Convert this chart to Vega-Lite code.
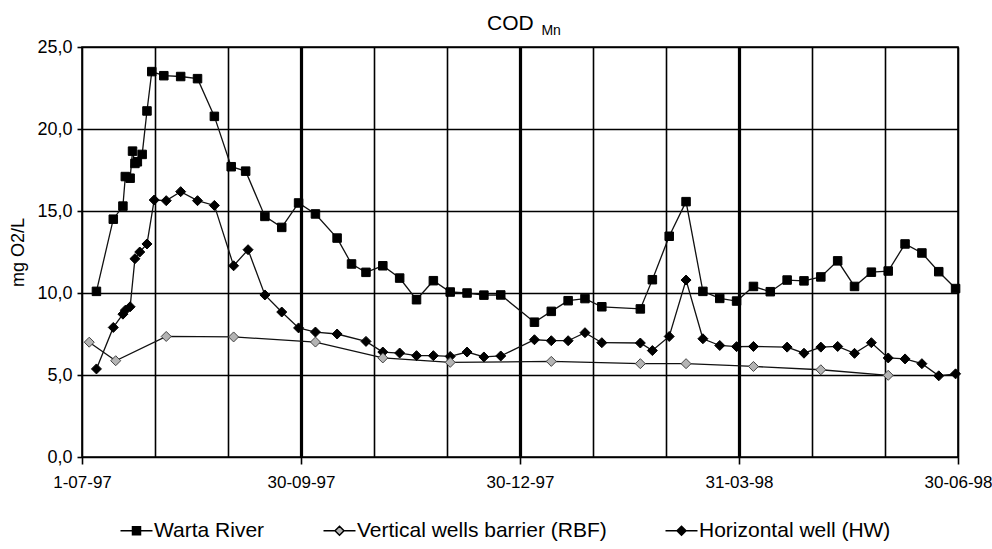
{
  "$schema": "https://vega.github.io/schema/vega-lite/v6.json",
  "width": 876,
  "height": 410,
  "autosize": {"type": "none"},
  "padding": {"left": 82, "top": 47, "right": 34, "bottom": 92},
  "background": "white",
  "config": {
    "font": "Liberation Sans",
    "view": {"stroke": "#000", "strokeWidth": 1.6},
    "axis": {"labelFont": "Liberation Sans", "titleFont": "Liberation Sans", "labelColor": "#000", "titleColor": "#000", "domain": false, "gridColor": "#000", "gridOpacity": 1, "tickColor": "#000"}
  },
  "title": {
    "text": "COD",
    "subtitle": "\u200b\u00a0\u00a0\u00a0\u00a0\u00a0\u00a0\u00a0\u00a0\u00a0\u00a0\u00a0\u00a0\u00a0\u00a0Mn",
    "anchor": "middle",
    "align": "left",
    "dx": -33,
    "fontSize": 21,
    "fontWeight": "normal",
    "font": "Liberation Sans",
    "color": "#000",
    "subtitleFont": "Liberation Sans",
    "subtitleFontSize": 14,
    "subtitleColor": "#000",
    "subtitlePadding": -10,
    "offset": 0
  },
  "data": {
    "format": {"parse": {"date": "utc:'%Y-%m-%d'"}},
    "values": [
      {"series": "Warta River", "date": "1997-07-07", "value": 10.1},
      {"series": "Warta River", "date": "1997-07-14", "value": 14.5},
      {"series": "Warta River", "date": "1997-07-18", "value": 15.3},
      {"series": "Warta River", "date": "1997-07-19", "value": 17.1},
      {"series": "Warta River", "date": "1997-07-21", "value": 17.0},
      {"series": "Warta River", "date": "1997-07-22", "value": 18.65},
      {"series": "Warta River", "date": "1997-07-23", "value": 17.9},
      {"series": "Warta River", "date": "1997-07-24", "value": 18.0},
      {"series": "Warta River", "date": "1997-07-26", "value": 18.45},
      {"series": "Warta River", "date": "1997-07-28", "value": 21.1},
      {"series": "Warta River", "date": "1997-07-30", "value": 23.5},
      {"series": "Warta River", "date": "1997-08-04", "value": 23.25},
      {"series": "Warta River", "date": "1997-08-11", "value": 23.2},
      {"series": "Warta River", "date": "1997-08-18", "value": 23.07},
      {"series": "Warta River", "date": "1997-08-25", "value": 20.77},
      {"series": "Warta River", "date": "1997-09-01", "value": 17.7},
      {"series": "Warta River", "date": "1997-09-07", "value": 17.43},
      {"series": "Warta River", "date": "1997-09-15", "value": 14.67},
      {"series": "Warta River", "date": "1997-09-22", "value": 14.0},
      {"series": "Warta River", "date": "1997-09-29", "value": 15.49},
      {"series": "Warta River", "date": "1997-10-06", "value": 14.82},
      {"series": "Warta River", "date": "1997-10-15", "value": 13.35},
      {"series": "Warta River", "date": "1997-10-21", "value": 11.77},
      {"series": "Warta River", "date": "1997-10-27", "value": 11.26},
      {"series": "Warta River", "date": "1997-11-03", "value": 11.66},
      {"series": "Warta River", "date": "1997-11-10", "value": 10.91},
      {"series": "Warta River", "date": "1997-11-17", "value": 9.59},
      {"series": "Warta River", "date": "1997-11-24", "value": 10.75},
      {"series": "Warta River", "date": "1997-12-01", "value": 10.06},
      {"series": "Warta River", "date": "1997-12-08", "value": 10.0},
      {"series": "Warta River", "date": "1997-12-15", "value": 9.87},
      {"series": "Warta River", "date": "1997-12-22", "value": 9.88},
      {"series": "Warta River", "date": "1998-01-05", "value": 8.22},
      {"series": "Warta River", "date": "1998-01-12", "value": 8.88},
      {"series": "Warta River", "date": "1998-01-19", "value": 9.53},
      {"series": "Warta River", "date": "1998-01-26", "value": 9.66},
      {"series": "Warta River", "date": "1998-02-02", "value": 9.16},
      {"series": "Warta River", "date": "1998-02-18", "value": 9.03},
      {"series": "Warta River", "date": "1998-02-23", "value": 10.81},
      {"series": "Warta River", "date": "1998-03-02", "value": 13.46},
      {"series": "Warta River", "date": "1998-03-09", "value": 15.57},
      {"series": "Warta River", "date": "1998-03-16", "value": 10.1},
      {"series": "Warta River", "date": "1998-03-23", "value": 9.67},
      {"series": "Warta River", "date": "1998-03-30", "value": 9.51},
      {"series": "Warta River", "date": "1998-04-06", "value": 10.4},
      {"series": "Warta River", "date": "1998-04-13", "value": 10.08},
      {"series": "Warta River", "date": "1998-04-20", "value": 10.79},
      {"series": "Warta River", "date": "1998-04-27", "value": 10.74},
      {"series": "Warta River", "date": "1998-05-04", "value": 10.98},
      {"series": "Warta River", "date": "1998-05-11", "value": 11.96},
      {"series": "Warta River", "date": "1998-05-18", "value": 10.4},
      {"series": "Warta River", "date": "1998-05-25", "value": 11.27},
      {"series": "Warta River", "date": "1998-06-01", "value": 11.34},
      {"series": "Warta River", "date": "1998-06-08", "value": 12.99},
      {"series": "Warta River", "date": "1998-06-15", "value": 12.44},
      {"series": "Warta River", "date": "1998-06-22", "value": 11.3},
      {"series": "Warta River", "date": "1998-06-29", "value": 10.27},
      {"series": "Horizontal well (HW)", "date": "1997-07-07", "value": 5.37},
      {"series": "Horizontal well (HW)", "date": "1997-07-14", "value": 7.9},
      {"series": "Horizontal well (HW)", "date": "1997-07-18", "value": 8.71},
      {"series": "Horizontal well (HW)", "date": "1997-07-19", "value": 8.95},
      {"series": "Horizontal well (HW)", "date": "1997-07-21", "value": 9.16},
      {"series": "Horizontal well (HW)", "date": "1997-07-23", "value": 12.09},
      {"series": "Horizontal well (HW)", "date": "1997-07-25", "value": 12.5},
      {"series": "Horizontal well (HW)", "date": "1997-07-28", "value": 12.99},
      {"series": "Horizontal well (HW)", "date": "1997-07-31", "value": 15.67},
      {"series": "Horizontal well (HW)", "date": "1997-08-05", "value": 15.63},
      {"series": "Horizontal well (HW)", "date": "1997-08-11", "value": 16.18},
      {"series": "Horizontal well (HW)", "date": "1997-08-18", "value": 15.63},
      {"series": "Horizontal well (HW)", "date": "1997-08-25", "value": 15.34},
      {"series": "Horizontal well (HW)", "date": "1997-09-02", "value": 11.66},
      {"series": "Horizontal well (HW)", "date": "1997-09-08", "value": 12.64},
      {"series": "Horizontal well (HW)", "date": "1997-09-15", "value": 9.88},
      {"series": "Horizontal well (HW)", "date": "1997-09-22", "value": 8.84},
      {"series": "Horizontal well (HW)", "date": "1997-09-29", "value": 7.87},
      {"series": "Horizontal well (HW)", "date": "1997-10-06", "value": 7.62},
      {"series": "Horizontal well (HW)", "date": "1997-10-15", "value": 7.5},
      {"series": "Horizontal well (HW)", "date": "1997-10-27", "value": 7.05},
      {"series": "Horizontal well (HW)", "date": "1997-11-03", "value": 6.4},
      {"series": "Horizontal well (HW)", "date": "1997-11-10", "value": 6.34},
      {"series": "Horizontal well (HW)", "date": "1997-11-17", "value": 6.18},
      {"series": "Horizontal well (HW)", "date": "1997-11-24", "value": 6.18},
      {"series": "Horizontal well (HW)", "date": "1997-12-01", "value": 6.13},
      {"series": "Horizontal well (HW)", "date": "1997-12-08", "value": 6.4},
      {"series": "Horizontal well (HW)", "date": "1997-12-15", "value": 6.1},
      {"series": "Horizontal well (HW)", "date": "1997-12-22", "value": 6.16},
      {"series": "Horizontal well (HW)", "date": "1998-01-05", "value": 7.15},
      {"series": "Horizontal well (HW)", "date": "1998-01-12", "value": 7.09},
      {"series": "Horizontal well (HW)", "date": "1998-01-19", "value": 7.09},
      {"series": "Horizontal well (HW)", "date": "1998-01-26", "value": 7.58},
      {"series": "Horizontal well (HW)", "date": "1998-02-02", "value": 6.97},
      {"series": "Horizontal well (HW)", "date": "1998-02-18", "value": 6.95},
      {"series": "Horizontal well (HW)", "date": "1998-02-23", "value": 6.49},
      {"series": "Horizontal well (HW)", "date": "1998-03-02", "value": 7.35},
      {"series": "Horizontal well (HW)", "date": "1998-03-09", "value": 10.79},
      {"series": "Horizontal well (HW)", "date": "1998-03-16", "value": 7.21},
      {"series": "Horizontal well (HW)", "date": "1998-03-23", "value": 6.8},
      {"series": "Horizontal well (HW)", "date": "1998-03-30", "value": 6.73},
      {"series": "Horizontal well (HW)", "date": "1998-04-06", "value": 6.74},
      {"series": "Horizontal well (HW)", "date": "1998-04-20", "value": 6.7},
      {"series": "Horizontal well (HW)", "date": "1998-04-27", "value": 6.33},
      {"series": "Horizontal well (HW)", "date": "1998-05-04", "value": 6.7},
      {"series": "Horizontal well (HW)", "date": "1998-05-11", "value": 6.74},
      {"series": "Horizontal well (HW)", "date": "1998-05-18", "value": 6.32},
      {"series": "Horizontal well (HW)", "date": "1998-05-25", "value": 6.97},
      {"series": "Horizontal well (HW)", "date": "1998-06-01", "value": 6.04},
      {"series": "Horizontal well (HW)", "date": "1998-06-08", "value": 5.98},
      {"series": "Horizontal well (HW)", "date": "1998-06-15", "value": 5.69},
      {"series": "Horizontal well (HW)", "date": "1998-06-22", "value": 4.95},
      {"series": "Horizontal well (HW)", "date": "1998-06-29", "value": 5.07},
      {"series": "Vertical wells barrier (RBF)", "date": "1997-07-04", "value": 7.0},
      {"series": "Vertical wells barrier (RBF)", "date": "1997-07-15", "value": 5.87},
      {"series": "Vertical wells barrier (RBF)", "date": "1997-08-05", "value": 7.35},
      {"series": "Vertical wells barrier (RBF)", "date": "1997-09-02", "value": 7.32},
      {"series": "Vertical wells barrier (RBF)", "date": "1997-10-06", "value": 7.01},
      {"series": "Vertical wells barrier (RBF)", "date": "1997-11-03", "value": 6.04},
      {"series": "Vertical wells barrier (RBF)", "date": "1997-12-01", "value": 5.77},
      {"series": "Vertical wells barrier (RBF)", "date": "1998-01-12", "value": 5.83},
      {"series": "Vertical wells barrier (RBF)", "date": "1998-02-18", "value": 5.69},
      {"series": "Vertical wells barrier (RBF)", "date": "1998-03-09", "value": 5.69},
      {"series": "Vertical wells barrier (RBF)", "date": "1998-04-06", "value": 5.52},
      {"series": "Vertical wells barrier (RBF)", "date": "1998-05-04", "value": 5.32},
      {"series": "Vertical wells barrier (RBF)", "date": "1998-06-01", "value": 4.98}
    ]
  },
  "encoding": {
    "x": {
      "field": "date",
      "type": "temporal",
      "scale": {"type": "utc", "domain": [867715200000, 899164800000]},
      "axis": {
        "title": null,
        "values": [867715200000, 870336000000, 872956800000, 875577600000, 878198400000, 880819200000, 883440000000, 886060800000, 888681600000, 891302400000, 893923200000, 896544000000, 899164800000],
        "labelExpr": "((datum.value - 867715200000) % 7862400000 == 0) ? utcFormat(datum.value, '%-d-%m-%y') : ''",
        "grid": true,
        "gridWidth": {"condition": {"test": "datum.value > 867715200000 && datum.value < 899164800000 && (datum.value - 867715200000) % 7862400000 == 0", "value": 3.2}, "value": 1.6},
        "tickOpacity": {"condition": {"test": "(datum.value - 867715200000) % 7862400000 == 0", "value": 1}, "value": 0},
        "tickSize": 7,
        "tickWidth": 1.6,
        "labelFontSize": 17,
        "labelPadding": 10,
        "labelFlush": false,
        "labelOverlap": false,
        "labelBound": false
      }
    },
    "y": {
      "field": "value",
      "type": "quantitative",
      "scale": {"domain": [0, 25]},
      "axis": {
        "values": [0, 5, 10, 15, 20, 25],
        "labelExpr": "replace(format(datum.value, '.1f'), '.', ',')",
        "grid": true,
        "gridWidth": 1.6,
        "tickSize": 5,
        "tickWidth": 1.6,
        "labelFontSize": 18,
        "labelPadding": 5,
        "title": "mg O2/L",
        "titleFontSize": 18,
        "titleFontWeight": "normal",
        "titlePadding": 9
      }
    }
  },
  "layer": [
    {
      "mark": {"type": "line", "strokeWidth": 1.3, "color": "#111"},
      "encoding": {"detail": {"field": "series"}}
    },
    {
      "mark": {"type": "point", "filled": true, "size": 100, "opacity": 1, "strokeWidth": 1},
      "encoding": {
        "shape": {
          "field": "series",
          "type": "nominal",
          "scale": {"domain": ["Warta River", "Vertical wells barrier (RBF)", "Horizontal well (HW)"], "range": ["M-0.85,-0.85H0.85V0.85H-0.85Z", "diamond", "diamond"]},
          "legend": null
        },
        "fill": {
          "field": "series",
          "type": "nominal",
          "scale": {"domain": ["Warta River", "Vertical wells barrier (RBF)", "Horizontal well (HW)"], "range": ["#000", "#b4b4b4", "#000"]},
          "legend": null
        },
        "stroke": {
          "field": "series",
          "type": "nominal",
          "scale": {"domain": ["Warta River", "Vertical wells barrier (RBF)", "Horizontal well (HW)"], "range": ["#000", "#444", "#000"]},
          "legend": null
        }
      }
    },
    {
      "transform": [{"filter": "false"}],
      "mark": {"type": "point", "filled": true, "size": 100, "opacity": 1, "strokeWidth": 1.5},
      "encoding": {
        "shape": {
          "field": "series",
          "type": "nominal",
          "scale": {"domain": ["Warta River", "Vertical wells barrier (RBF)", "Horizontal well (HW)"], "range": ["M-3.2,0H-0.8M0.8,0H3.2M-0.8,-0.8H0.8V0.8H-0.8Z", "M-3.2,0H-0.9M0.9,0H3.2M0,-0.9L0.9,0L0,0.9L-0.9,0Z", "M-3.2,0H-0.9M0.9,0H3.2M0,-0.9L0.9,0L0,0.9L-0.9,0Z"]},
          "legend": {
            "orient": "none",
            "legendX": 44,
            "legendY": 473,
            "direction": "horizontal",
            "title": null,
            "labelFontSize": 21,
            "labelFont": "Liberation Sans",
            "labelColor": "#000",
            "labelLimit": 600,
            "symbolSize": 100,
            "symbolStrokeWidth": 1.5,
            "symbolStrokeColor": "#000",
            "symbolOpacity": 1,
            "labelOffset": 7,
            "columnPadding": 55
          }
        },
        "fill": {
          "field": "series",
          "type": "nominal",
          "scale": {"domain": ["Warta River", "Vertical wells barrier (RBF)", "Horizontal well (HW)"], "range": ["#000", "#b4b4b4", "#000"]}
        },
        "stroke": {
          "field": "series",
          "type": "nominal",
          "scale": {"domain": ["Warta River", "Vertical wells barrier (RBF)", "Horizontal well (HW)"], "range": ["#000", "#000", "#000"]}
        }
      }
    }
  ],
  "resolve": {
    "scale": {"shape": "independent", "fill": "independent", "stroke": "independent"}
  }
}
